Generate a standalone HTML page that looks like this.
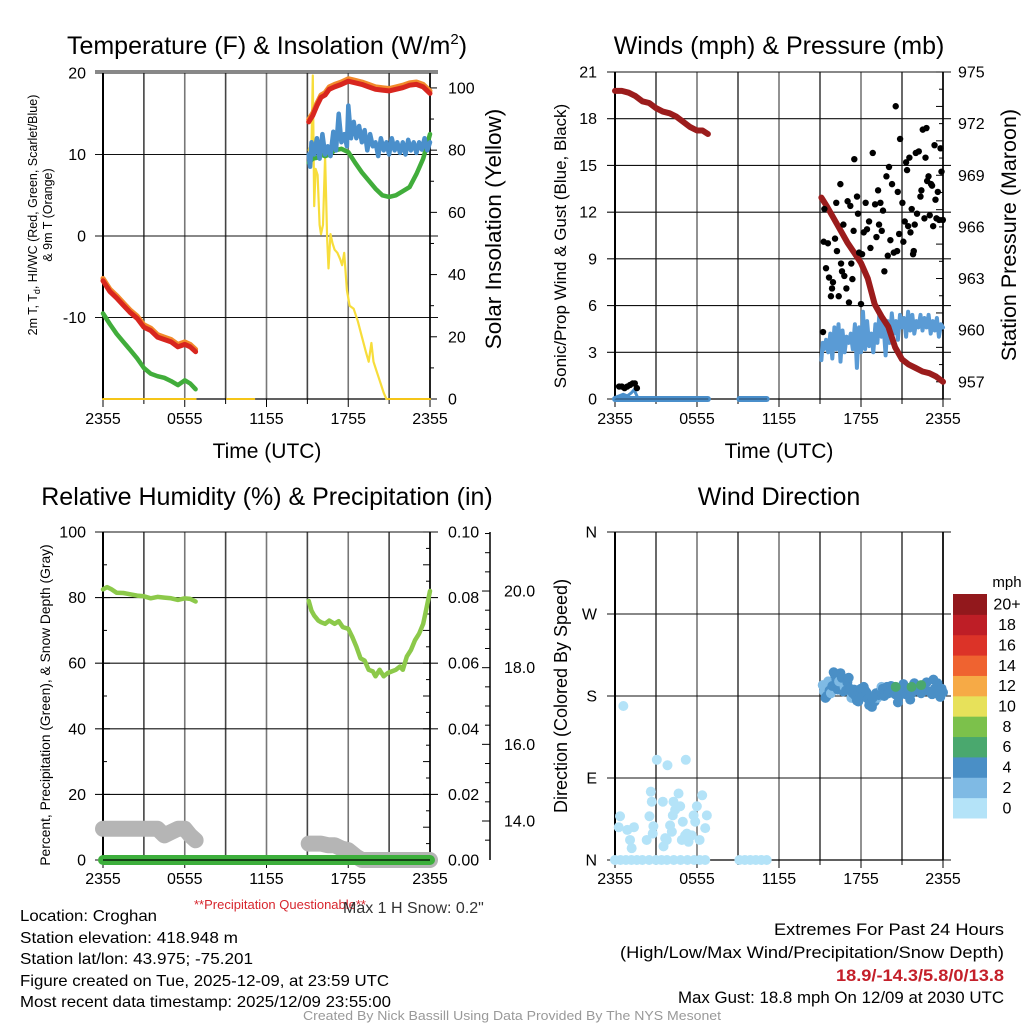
<!DOCTYPE html>
<html><head><meta charset="utf-8"><style>
html,body{margin:0;padding:0;background:#fff;}
svg{display:block;font-family:"Liberation Sans",sans-serif;}
</style></head><body>
<svg id="chart" width="1024" height="1024" viewBox="0 0 1024 1024" xmlns="http://www.w3.org/2000/svg">
<rect x="0" y="0" width="1024" height="1024" fill="#fff"/>
<g id="g"></g>
<text x="267" y="54" font-size="25" text-anchor="middle">Temperature (F) &amp; Insolation (W/m<tspan dy="-10" font-size="15">2</tspan><tspan dy="10">)</tspan></text>
<text x="779" y="54" font-size="25" text-anchor="middle">Winds (mph) &amp; Pressure (mb)</text>
<text x="267" y="505" font-size="25" text-anchor="middle">Relative Humidity (%) &amp; Precipitation (in)</text>
<text x="779" y="505" font-size="25" text-anchor="middle">Wind Direction</text>
<text x="267" y="458" font-size="21" text-anchor="middle">Time (UTC)</text>
<text x="779" y="458" font-size="21" text-anchor="middle">Time (UTC)</text>
<text transform="translate(37,215) rotate(-90)" font-size="12.5" text-anchor="middle">2m T, T<tspan font-size="9" dy="3">d</tspan><tspan dy="-3">, HI/WC (Red, Green, Scarlet/Blue)</tspan></text>
<text transform="translate(52,215) rotate(-90)" font-size="12.5" text-anchor="middle">&amp; 9m T (Orange)</text>
<text transform="translate(501,229) rotate(-90)" font-size="22.5" text-anchor="middle">Solar Insolation (Yellow)</text>
<text transform="translate(566,246) rotate(-90)" font-size="17" text-anchor="middle">Sonic/Prop Wind &amp; Gust (Blue, Black)</text>
<text transform="translate(1016,235) rotate(-90)" font-size="21.5" text-anchor="middle">Station Pressure (Maroon)</text>
<text transform="translate(50,705) rotate(-90)" font-size="13.8" text-anchor="middle">Percent, Precipitation (Green), &amp; Snow Depth (Gray)</text>
<text transform="translate(567,696) rotate(-90)" font-size="18" text-anchor="middle">Direction (Colored By Speed)</text>
<text x="280" y="909" font-size="13" fill="#d7262e" text-anchor="middle">**Precipitation Questionable**</text>
<text x="343" y="913" font-size="16" fill="#333">Max 1 H Snow: 0.2"</text>
<g font-size="16">
<text x="20" y="921" textLength="137" lengthAdjust="spacingAndGlyphs">Location: Croghan</text>
<text x="20" y="943" textLength="218" lengthAdjust="spacingAndGlyphs">Station elevation: 418.948 m</text>
<text x="20" y="964" textLength="233" lengthAdjust="spacingAndGlyphs">Station lat/lon: 43.975; -75.201</text>
<text x="20" y="986" textLength="369" lengthAdjust="spacingAndGlyphs">Figure created on Tue, 2025-12-09, at 23:59 UTC</text>
<text x="20" y="1007" textLength="371" lengthAdjust="spacingAndGlyphs">Most recent data timestamp: 2025/12/09 23:55:00</text>
</g>
<g font-size="17">
<text x="774" y="935" textLength="230" lengthAdjust="spacingAndGlyphs">Extremes For Past 24 Hours</text>
<text x="620" y="958" textLength="384" lengthAdjust="spacingAndGlyphs">(High/Low/Max Wind/Precipitation/Snow Depth)</text>
<text x="836" y="981" fill="#c4202a" font-weight="bold" textLength="168" lengthAdjust="spacingAndGlyphs">18.9/-14.3/5.8/0/13.8</text>
<text x="678" y="1003" textLength="326" lengthAdjust="spacingAndGlyphs">Max Gust: 18.8 mph On 12/09 at 2030 UTC</text>
</g>
<text x="303" y="1020" font-size="13" fill="#999" textLength="418" lengthAdjust="spacingAndGlyphs">Created By Nick Bassill Using Data Provided By The NYS Mesonet</text>
</svg>
<script>
// ---------- data (hours since 2355 UTC) ----------
const xTickLabels = ["2355","0555","1155","1755","2355"];
const tempTicks = [-10,0,10,20];
const insolTicks = [0,20,40,60,80,100];
const windTicks = [0,3,6,9,12,15,18,21];
const presTicks = [957,960,963,966,969,972,975];
const rhTicks = [0,20,40,60,80,100];
const precipTicks = ["0.00","0.02","0.04","0.06","0.08","0.10"];
const snowTicks = [14.0,16.0,18.0,20.0];
const dirTicks = ["N","E","S","W","N"];

const tempT1 = [0,0.5,1,1.5,2,2.5,3,3.5,4,4.5,5,5.5,6,6.4,6.8];
const tempV1 = [-5.5,-6.8,-7.6,-8.5,-9.4,-10.1,-11.2,-11.6,-12.4,-12.7,-13.0,-13.6,-13.3,-13.6,-14.2];
const t9mV1 = [-5.2,-6.5,-7.3,-8.2,-9.1,-9.8,-10.9,-11.3,-12.1,-12.4,-12.7,-13.3,-13.0,-13.3,-13.9];
const dewV1 = [-9.5,-10.8,-12,-13,-14,-15,-16.2,-16.9,-17.2,-17.4,-17.8,-18.3,-17.7,-18.1,-18.8];
const tempT2 = [15.1,15.4,15.7,16,16.3,16.6,17,17.5,18,18.5,19,19.5,20,20.5,21,21.5,22,22.5,23,23.5,24];
const tempV2 = [14,14.8,16,17,17.3,18,18.3,18.6,19,18.8,18.6,18.3,18,17.9,17.8,18,18.2,18.5,18.6,18.3,17.5];
const t9mV2 = [14.3,15.1,16.3,17.3,17.6,18.3,18.6,18.9,19.3,19.1,18.9,18.6,18.3,18.2,18.1,18.3,18.5,18.8,18.9,18.6,17.8];
const dewV2 = [9,9.5,9.6,10,9.8,10,10.5,10.7,10.3,9,7.8,6.8,5.8,5,4.8,5,5.5,6,7.6,9.5,12.5];
const hiT = [15.1,15.2,15.3,15.5,15.7,15.9,16.1,16.3,16.5,16.7,16.9,17.1,17.3,17.5,17.7,17.9,18,18.2,18.4,18.6,18.8,19,19.2,19.4,19.6,19.8,20,20.2,20.4,20.6,20.8,21,21.2,21.4,21.6,21.8,22,22.2,22.4,22.6,22.8,23,23.2,23.4,23.6,23.8,24];
const hiV = [10,8.5,11.5,10,12,9.5,12.5,10,11,9.8,12.8,10.5,15,11.5,12.5,11,16,12,14,12,13.5,11.5,13,10.5,12.5,11,11.5,9.8,12,10.5,11.5,10,12,10.5,11.5,10.2,11.5,10,11.8,10.5,11.5,10.2,11.5,10.6,12,10.5,11.5];
const insolZeroT = [[0,6.8],[9.1,11.1],[20.8,24]];
const insolT = [15.1,15.3,15.4,15.5,15.6,15.75,15.9,16.0,16.15,16.3,16.45,16.55,16.7,16.85,17.0,17.2,17.4,17.55,17.7,17.9,18.1,18.4,18.7,19.0,19.3,19.5,19.7,19.85,20.0,20.3,20.6,20.8];
const insolV = [80,82,104,62,74,72,56,53,56,78,52,42,53,50,48,47,45,43,47,35,30,29,25,20,15,12,18,12,10,6,2,0];

const presT1 = [0,0.5,1,1.5,2,2.5,3,3.5,4,4.5,5,5.5,6,6.4,6.8];
const presV1 = [973.9,973.9,973.8,973.6,973.3,973.2,972.9,972.7,972.6,972.4,972.1,971.8,971.6,971.6,971.4];
const presT2 = [15.1,15.5,16,16.5,17,17.5,18,18.5,19,19.5,20,20.5,21,21.5,22,22.5,23,23.5,24];
const presV2 = [967.7,967.2,966.5,965.8,965.1,964.5,963.9,963.0,961.5,960.8,960.2,959.0,958.3,958.0,957.8,957.6,957.5,957.3,957.0];
const windZeroT = [[0,6.8],[9.1,11.1]];
const windT = [15.1,15.2,15.3,15.45,15.6,15.75,15.9,16.05,16.2,16.35,16.5,16.65,16.8,16.95,17.1,17.25,17.4,17.55,17.7,17.85,18.0,18.15,18.3,18.45,18.6,18.75,18.9,19.05,19.2,19.35,19.5,19.65,19.8,19.95,20.1,20.25,20.4,20.55,20.7,20.85,21.0,21.15,21.3,21.45,21.6,21.75,21.9,22.05,22.2,22.35,22.5,22.65,22.8,22.95,23.1,23.25,23.4,23.55,23.7,23.85,24];
const windV = [2.5,3.6,3.2,3.8,3.0,4.2,2.6,4.6,3.2,4.8,2.4,4.4,3.0,4.0,3.6,4.2,3.2,4.8,2.0,4.6,3.0,5.6,3.2,5.0,3.4,4.2,3.0,4.8,3.6,5.6,4.0,4.8,2.8,5.0,3.6,5.5,4.2,5.0,3.8,5.4,4.6,5.2,4.0,5.6,4.4,5.4,4.2,5.0,4.6,5.4,4.4,5.2,4.6,5.4,4.2,5.0,4.4,5.2,4.0,4.8,4.6];
const earlyWindT = [0,0.3,0.6,0.9,1.2,1.4,1.6];
const earlyWindV = [0.1,0.2,0.3,0.2,0.4,0.6,0.2];
const gustT = [0.3,0.5,0.7,0.9,1.1,1.3,1.45,1.6,15.22,15.27,15.32,15.44,15.58,15.66,15.80,15.88,15.95,16.10,16.19,16.24,16.37,16.49,16.54,16.61,16.71,16.78,16.93,17.02,17.12,17.22,17.29,17.37,17.46,17.51,17.71,17.78,17.86,18.00,18.08,18.20,18.34,18.44,18.59,18.69,18.86,19.03,19.13,19.25,19.32,19.42,19.52,19.61,19.71,19.86,19.96,20.05,20.15,20.27,20.40,20.54,20.64,20.69,20.79,20.86,21.03,21.10,21.20,21.30,21.37,21.45,21.54,21.62,21.71,21.81,21.86,21.93,22.01,22.10,22.23,22.35,22.42,22.52,22.64,22.72,22.79,22.84,22.94,23.03,23.13,23.20,23.28,23.38,23.45,23.52,23.62,23.72,23.82,23.89,23.99];
const gustV = [0.8,0.8,0.7,0.8,0.9,1.0,1.0,0.7,4.3,10.1,12.2,8.4,10.0,7.8,6.6,7.1,7.5,10.3,12.6,9.5,6.6,13.8,8.7,8.2,11.2,7.9,7.1,12.7,6.2,12.4,8.7,7.7,10.8,15.4,13.0,11.9,9.4,6.1,9.3,10.7,12.6,10.9,11.4,9.7,15.8,12.5,10.4,13.4,11.2,12.6,10.8,12.1,8.2,14.3,9.2,14.9,10.2,13.8,9.4,18.8,9.5,13.3,10.6,16.7,12.6,10.1,11.4,15.2,14.7,11.1,15.5,10.7,12.2,9.3,9.5,11.2,15.8,11.9,15.9,13.0,13.4,17.3,11.6,15.5,17.4,14.0,14.3,11.8,13.8,13.7,11.1,16.3,12.8,11.6,13.3,11.5,16.1,14.6,11.5];

const rhT1 = [0,0.3,0.6,1,1.5,2,2.5,3,3.5,4,4.5,5,5.5,6,6.4,6.8];
const rhV1 = [82.5,83.2,82.6,81.5,81.4,81,80.6,80.4,79.8,80.2,80,79.8,79.3,79.8,79.6,78.8];
const rhT2 = [15.1,15.3,15.5,15.8,16,16.3,16.6,17,17.3,17.6,18,18.3,18.6,18.9,19.2,19.5,19.8,20,20.3,20.6,20.9,21.2,21.5,21.8,22,22.3,22.6,22.9,23.2,23.5,23.8,24];
const rhV2 = [79,76,74.5,73,72.5,72,73,72,72.8,71,70.5,68,65,61.5,60.8,58,57.5,56,58,56,57,57.5,58,59,58,62,64,67,69,72,78,82];
const snowT1 = [0,1,2,3,3.5,4,4.5,5,5.5,6,6.4,6.8];
const snowV1 = [9.5,9.5,9.5,9.5,9.5,9.5,7.5,8.5,9.5,9.5,7.5,6];
const snowT2 = [15.1,15.5,16,16.5,17,17.5,18,18.6,19,20,21,22,23,24];
const snowV2 = [5,5,5,4.5,4.5,3.5,3,1,0,0,0,0,0,0];
const precipT = [0,24];
const precipV = [0,0];

const dirT = [0.61,3.06,5.18,3.84,2.62,4.65,6.38,0.37,0.27,0.9,1.39,1.1,1.22,2.32,2.52,2.69,2.81,2.76,3.5,3.67,3.79,4.03,4.16,4.23,4.28,4.4,4.77,4.89,4.96,5.13,5.26,5.38,5.62,5.75,5.87,5.99,6.19,6.6,6.72,3.55,
0,0.4,0.8,1.2,1.6,2,2.5,3,3.4,3.8,4.3,4.8,5.3,5.8,6.2,6.6,9.1,9.5,9.9,10.3,10.7,11.1,
15.2,15.3,15.4,15.5,15.6,15.7,15.8,15.9,16.0,16.1,16.2,16.3,16.4,16.5,16.6,16.7,16.8,16.9,17.0,17.1,17.2,17.3,17.4,17.5,17.6,17.7,17.8,17.9,18.0,18.1,18.2,18.3,18.4,18.5,18.6,18.7,18.8,18.9,19.0,19.1,19.2,19.3,19.4,19.5,19.6,19.7,19.8,19.9,20.0,20.1,20.2,20.3,20.4,20.5,20.6,20.7,20.8,21.0,21.1,21.2,21.3,21.4,21.5,21.6,21.7,21.8,21.9,22.0,22.2,22.4,22.6,22.8,23.0,23.2,23.3,23.4,23.6,23.7,23.8,23.9,24.0,18.86,20.54,21.7,22.4];
const dirV = [169,110,110,104,75,73,71,48,36,33,36,22,13,22,48,64,37,29,64,24,22,38,31,49,64,55,59,22,42,27,29,20,27,49,42,59,22,35,49,15,
0,0,0,0,0,0,0,0,0,0,0,0,0,0,0,0,0,0,0,0,0,0,
192,185,178,180,196,186,183,191,206,203,198,187,196,205,200,185,190,186,195,200,188,178,183,187,180,175,174,177,188,180,190,186,184,177,170,172,168,175,174,183,178,181,185,190,188,180,184,190,183,188,191,187,190,182,185,173,180,187,193,190,182,186,188,176,183,190,194,186,190,183,188,195,185,182,198,188,194,186,179,188,184,178,190,190,192];
const dirSpeed = [0.5,0.5,0.5,0.5,0.5,0.5,0.5,0.5,0.5,0.5,0.5,0.5,0.5,0.5,0.5,0.5,0.5,0.5,0.5,0.5,0.5,0.5,0.5,0.5,0.5,0.5,0.5,0.5,0.5,0.5,0.5,0.5,0.5,0.5,0.5,0.5,0.5,0.5,0.5,0.5,
0,0,0,0,0,0,0,0,0,0,0,0,0,0,0,0,0,0,0,0,0,0,
3.5,3.5,4.2,4.4,3.5,4.3,3.8,4.1,4.6,4.5,4.4,4.2,3.5,4.6,4.4,4.1,3.6,4.3,4.2,4.5,4.4,3.6,4.1,4.2,4.4,4.3,4.5,4.4,4.2,4.6,4.5,4.3,4.4,4.2,4.5,4.6,4.7,4.3,4.4,4.5,3.6,4.4,4.5,3.5,4.3,4.2,4.6,4.4,4.5,4.7,4.6,4.5,4.4,4.3,4.6,4.7,4.5,4.4,4.6,4.5,4.7,4.6,4.5,4.4,4.6,4.7,4.5,4.4,4.6,4.5,4.7,4.6,4.5,4.3,4.6,4.5,4.4,4.6,4.3,4.5,4.6,4.4,6.2,6.3,6.4,6.5];
const cbLabels = ["0","2","4","6","8","10","12","14","16","18","20+"];
const cbColors = ["#b4e3f8","#7fbae4","#4a8fc6","#4aa86e","#7cc14b","#e7e15a","#f6aa46","#ef6330","#dc3328","#be1e26","#92181c"];

// ---------- rendering ----------
const NS = "http://www.w3.org/2000/svg";
const G = document.getElementById("g");
function mk(tag, attrs, parent){
  const e = document.createElementNS(NS, tag);
  for (const k in attrs) e.setAttribute(k, attrs[k]);
  (parent||G).appendChild(e);
  return e;
}
function panel(x0,y0,w,h,lmin,lmax){
  return {x0,y0,w,h,
    x:t=>x0+t/24*w,
    y:v=>y0+h-(v-lmin)/(lmax-lmin)*h,
    yr:(v,a,b)=>y0+h-(v-a)/(b-a)*h};
}
function grid(p, hvals, yfn, gy){
  for (let i=0;i<=8;i++){
    const xx = p.x(i*3);
    const l = mk("line",{x1:xx,y1:p.y0,x2:xx,y2:p.y0+p.h,stroke:i%2?"#444":"#777","stroke-width":1.6});
    
    
  }
  hvals.forEach(v=>{
    const yy = yfn(v);
    const l = mk("line",{x1:p.x0-8,y1:yy,x2:p.x0+p.w+8,y2:yy,stroke:"#111","stroke-width":1.1});
    
    
  });
  mk("line",{x1:p.x0,y1:p.y0,x2:p.x0,y2:p.y0+p.h,stroke:"#000","stroke-width":2});
  mk("line",{x1:p.x0+p.w,y1:p.y0,x2:p.x0+p.w,y2:p.y0+p.h,stroke:"#000","stroke-width":1.6});
  mk("line",{x1:p.x0,y1:p.y0+p.h,x2:p.x0+p.w,y2:p.y0+p.h,stroke:"#000","stroke-width":1.2});
  for (let i=0;i<=8;i++){
    const xx=p.x(i*3);
    mk("line",{x1:xx,y1:p.y0+p.h,x2:xx,y2:p.y0+p.h+(i%2?5:8),stroke:"#000","stroke-width":1});
  }
  xTickLabels.forEach((s,i)=>{
    const t = mk("text",{x:p.x(i*6),y:gy,"font-size":16,"text-anchor":"middle"});
    t.textContent=s;
    
    
  });
}
function ylabels(vals, labels, yfn, x, anchor, name){
  vals.forEach((v,i)=>{
    const t = mk("text",{x:x,y:yfn(v)+5.5,"font-size":16,"text-anchor":anchor});
    t.textContent = labels[i];
    
    
  });
}
function minorTicks(x, y0, y1, n, dir){
  for (let i=0;i<=n;i++){
    const yy = y0+(y1-y0)*i/n;
    mk("line",{x1:x,y1:yy,x2:x+dir*(i%2?4:7),y2:yy,stroke:"#000","stroke-width":1});
  }
}
function line(p, ts, vs, yfn, color, w, name){
  const pts = ts.map((t,i)=>p.x(t).toFixed(1)+","+yfn(vs[i]).toFixed(1)).join(" ");
  const e = mk("polyline",{points:pts,fill:"none",stroke:color,"stroke-width":w,"stroke-linejoin":"round","stroke-linecap":"round"});
  
  
  return e;
}
function dot(cx,cy,r,color,name){
  const e = mk("circle",{cx:cx,cy:cy,r:r,fill:color});
  
  
}

// ---- Panel 1: temperature ----
const p1 = panel(103,73,327,326,-20,20);
const ins = v=>p1.yr(v,0,104.8);
grid(p1,[-10,0,10,20],p1.y,424);
mk("line",{x1:p1.x0-8,y1:71,x2:p1.x0+p1.w+8,y2:71,stroke:"#111","stroke-width":1.1});
ylabels(tempTicks, tempTicks.map(String), p1.y, 86, "end", "temp-y-tick-label");
ylabels(insolTicks, insolTicks.map(String), ins, 448, "start", "insolation-tick-label");
minorTicks(p1.x0+p1.w, ins(0), ins(100), 10, 1);
insolZeroT.forEach(r=>line(p1,[r[0],r[1]],[0,0],ins,"#f5c518",2,"insolation-line"));
line(p1,insolT,insolV,ins,"#f7dd3b",2.2,"insolation-line");
line(p1,tempT1,t9mV1,p1.y,"#f28a2c",5,"temp-9m-line");
line(p1,tempT2,t9mV2,p1.y,"#f28a2c",5,"temp-9m-line");
line(p1,tempT1,tempV1,p1.y,"#d8261f",5,"temp-2m-line");
line(p1,tempT2,tempV2,p1.y,"#d8261f",5,"temp-2m-line");
line(p1,tempT1,dewV1,p1.y,"#41ad3b",4.5,"dewpoint-line");
line(p1,tempT2,dewV2,p1.y,"#41ad3b",4.5,"dewpoint-line");
line(p1,hiT,hiV,p1.y,"#4a8fcb",4.5,"heat-index-line");

// ---- Panel 2: winds ----
const p2 = panel(615,72,328,327,0,21);
const pres = v=>p2.yr(v,956,975);
grid(p2,[0,3,6,9,12,15,18,21],p2.y,424);
ylabels(windTicks, windTicks.map(String), p2.y, 597, "end", "wind-y-tick-label");
ylabels(presTicks, presTicks.map(String), pres, 958, "start", "pressure-tick-label");
minorTicks(p2.x0+p2.w, pres(957), pres(975), 18, -1);
windZeroT.forEach(r=>line(p2,[r[0],r[1]],[0,0],p2.y,"#4a8fcb",6,"wind-speed-zero-line"));
windZeroT.forEach(r=>line(p2,[r[0],r[1]],[0,0],p2.y,"#2a4a6a",1,"wind-speed-zero-line"));
line(p2,earlyWindT,earlyWindV,p2.y,"#4a8fcb",3,"wind-speed-line");
line(p2,windT,windV,p2.y,"#5a9bd5",4,"wind-speed-line");
line(p2,presT1,presV1,pres,"#9b1c1c",6,"pressure-line");
line(p2,presT2,presV2,pres,"#9b1c1c",6,"pressure-line");
gustT.forEach((t,i)=>dot(p2.x(t),p2.y(gustV[i]),3.2,"#000","gust-dot"));

// ---- Panel 3: humidity ----
const p3 = panel(103,532,327,328,0,100);
grid(p3,[0,20,40,60,80,100],p3.y,884);
ylabels(rhTicks, rhTicks.map(String), p3.y, 86, "end", "rh-y-tick-label");
ylabels(rhTicks, precipTicks, p3.y, 448, "start", "precip-tick-label");
minorTicks(p3.x0+p3.w, p3.y0, p3.y0+p3.h, 20, -1);
minorTicks(p3.x0, p3.y0, p3.y0+p3.h, 10, 1);
const snowAx = v=>821-(v-14)*38.33;
mk("line",{x1:490,y1:p3.y0,x2:490,y2:p3.y0+p3.h,stroke:"#000","stroke-width":1.5});
for (let v=13.5; v<=21.5; v+=0.5){
  const yy = snowAx(v);
  if (yy<p3.y0||yy>p3.y0+p3.h) continue;
  mk("line",{x1:490,y1:yy,x2:Number.isInteger(v/2)?482:485,y2:yy,stroke:"#000","stroke-width":1});
}
ylabels(snowTicks, snowTicks.map(v=>v.toFixed(1)), snowAx, 504, "start", "snow-depth-tick-label");
line(p3,snowT1,snowV1,p3.y,"#b5b5b5",16,"snow-depth-line");
line(p3,snowT2,snowV2,p3.y,"#b5b5b5",16,"snow-depth-line");
line(p3,precipT,precipV,p3.y,"#3daf3c",10,"precipitation-line");
mk("line",{x1:p3.x0,y1:p3.y(0),x2:p3.x0+p3.w,y2:p3.y(0),stroke:"#000","stroke-width":1.2});
line(p3,rhT1,rhV1,p3.y,"#8cc94a",4.5,"rh-line");
line(p3,rhT2,rhV2,p3.y,"#8cc94a",4.5,"rh-line");

// ---- Panel 4: wind direction ----
const p4 = panel(615,532,328,328,0,360);
grid(p4,[0,90,180,270,360],p4.y,884);
ylabels([0,90,180,270,360], dirTicks, p4.y, 597, "end", "direction-tick-label");
dirT.forEach((t,i)=>{
  const idx = Math.min(10, Math.floor(dirSpeed[i]/2));
  dot(p4.x(t), p4.y(dirV[i]), 5, cbColors[idx], "direction-dot");
});
const cbTop=594, cbBot=818, cbH=(cbBot-cbTop)/cbLabels.length;
cbLabels.forEach((s,i)=>{
  const yy = cbBot-(i+1)*cbH;
  const r = mk("rect",{x:953,y:yy,width:34,height:cbH+0.5,fill:cbColors[i]});
  
  
  const t = mk("text",{x:1007,y:yy+cbH/2+5.5,"font-size":16,"text-anchor":"middle"});
  t.textContent = s;
  
  
});
const mph = mk("text",{x:1007,y:587,"font-size":15,"text-anchor":"middle"});
mph.textContent="mph";


</script>
</body></html>
